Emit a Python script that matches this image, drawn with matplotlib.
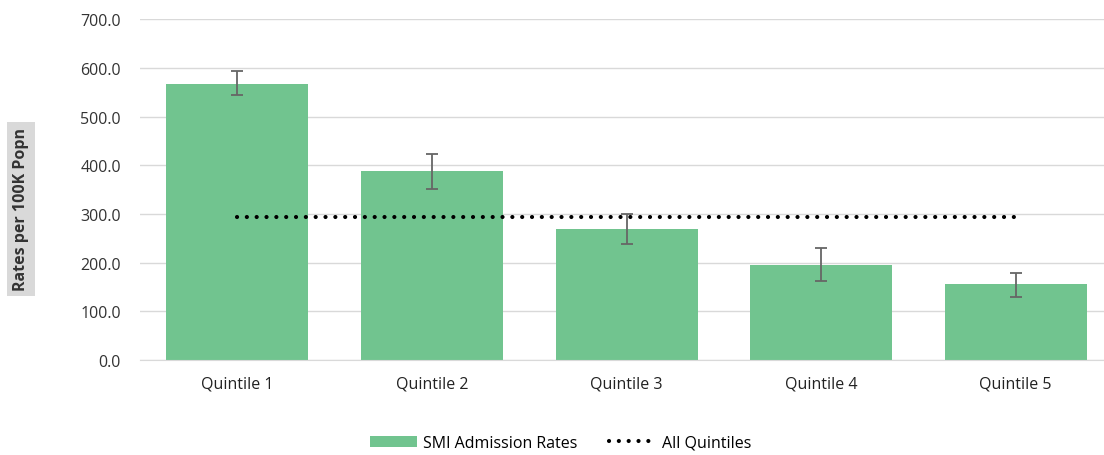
import matplotlib
matplotlib.use("Agg")
import matplotlib.pyplot as plt
import numpy as np

categories = ["Quintile 1", "Quintile 2", "Quintile 3", "Quintile 4", "Quintile 5"]
rates = [567, 388, 269, 196, 157]
err_low = [544, 352, 238, 163, 130]
err_high = [593, 423, 300, 230, 179]
all_quintiles = [294, 294, 294, 294, 294]
yticks = [0, 100, 200, 300, 400, 500, 600, 700]

plt.rcParams['font.family'] = ['Open Sans', 'DejaVu Sans']

fig = plt.figure(figsize=(11.04, 4.56), dpi=100)
ax = fig.add_axes([0.127, 0.208, 0.881, 0.748])

x = np.arange(len(categories))
rates_a = np.array(rates)
yerr = [rates_a - np.array(err_low), np.array(err_high) - rates_a]
bars = ax.bar(x, rates, width=0.73, color='#71c48f', label='SMI Admission Rates', zorder=2)
ax.errorbar(x, rates, yerr=yerr, fmt='none', ecolor='#666666', elinewidth=1.3,
            capsize=4, capthick=1.3, zorder=3)
line, = ax.plot(x, all_quintiles, color='black', linestyle=(0, (0.01, 2.35)), linewidth=3.0,
                dash_capstyle='round', label='All Quintiles', zorder=4)

ax.set_ylim(0, 700)
ax.set_xlim(-0.5, 4.5)
ax.set_yticks(yticks)
ax.set_yticklabels([f"{v:.1f}" for v in yticks], fontsize=11.5, color='#333333')
ax.set_xticks(x)
ax.set_xticklabels(categories, fontsize=11.5, color='#222222')
ax.tick_params(axis='y', length=0, pad=14)
ax.tick_params(axis='x', length=0, pad=11)
ax.yaxis.grid(True, color='#d9d9d9', linewidth=1, zorder=0)
for s in ['top', 'right', 'left']:
    ax.spines[s].set_visible(False)
ax.spines['bottom'].set_color('#d9d9d9')

fig.text(0.019, 0.54, 'Rates per 100K Popn', rotation=90, ha='center', va='center',
         fontsize=11.5, fontweight='bold', color='#333333',
         bbox=dict(facecolor='#d9d9d9', edgecolor='none', pad=4))

fig.legend([bars, line], ['SMI Admission Rates', 'All Quintiles'],
           loc='lower center', bbox_to_anchor=(0.508, -0.012), ncol=2, frameon=False,
           fontsize=11.5, handlelength=2.9, handleheight=0.7, columnspacing=2.0,
           handletextpad=0.4, borderaxespad=0.2)

fig.savefig('out.png', dpi=100)
